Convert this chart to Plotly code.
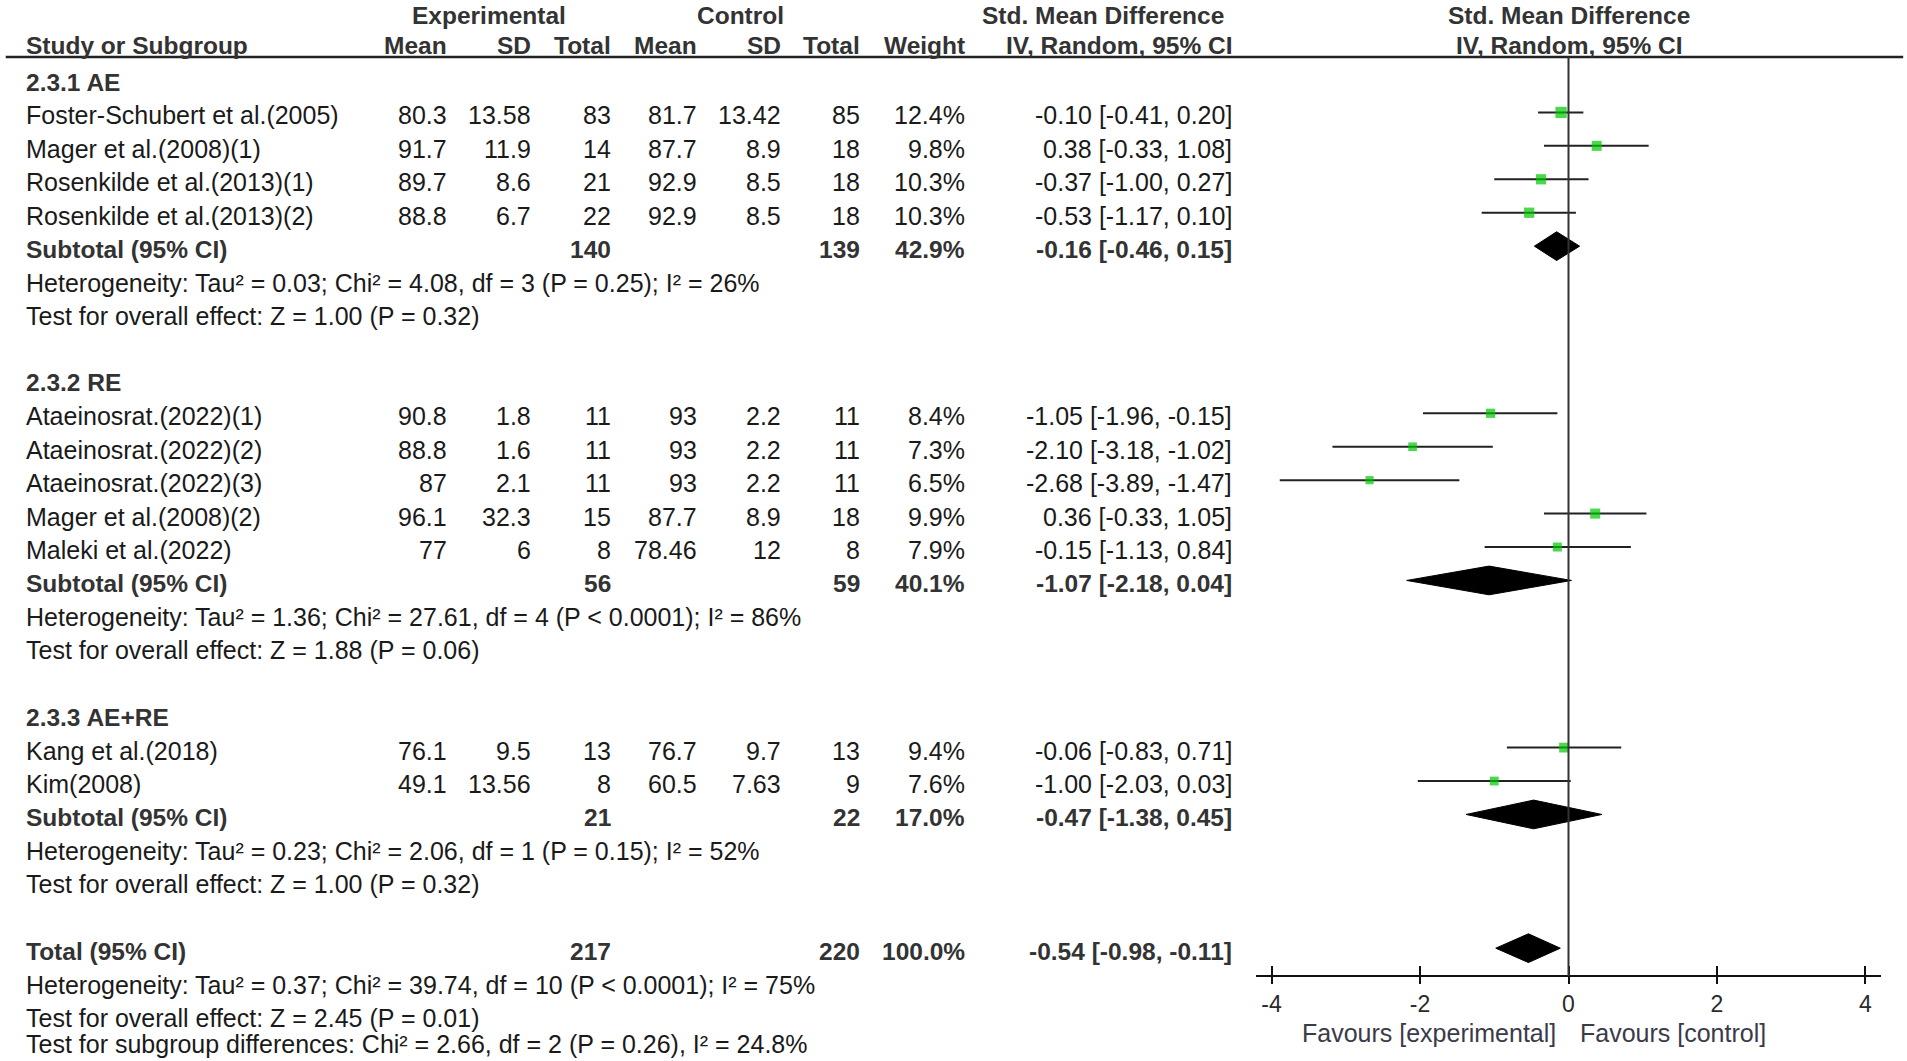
import plotly.graph_objects as go

# ---- data ----------------------------------------------------------------
groups = ["2.3.1 AE", "2.3.2 RE", "2.3.3 AE+RE"]

study = [
    "Foster-Schubert et al.(2005)", "Mager et al.(2008)(1)",
    "Rosenkilde et al.(2013)(1)", "Rosenkilde et al.(2013)(2)",
    "Ataeinosrat.(2022)(1)", "Ataeinosrat.(2022)(2)", "Ataeinosrat.(2022)(3)",
    "Mager et al.(2008)(2)", "Maleki et al.(2022)",
    "Kang et al.(2018)", "Kim(2008)",
]
study_group = [0, 0, 0, 0, 1, 1, 1, 1, 1, 2, 2]
exp_mean = [80.3, 91.7, 89.7, 88.8, 90.8, 88.8, 87, 96.1, 77, 76.1, 49.1]
exp_sd = [13.58, 11.9, 8.6, 6.7, 1.8, 1.6, 2.1, 32.3, 6, 9.5, 13.56]
exp_n = [83, 14, 21, 22, 11, 11, 11, 15, 8, 13, 8]
ctl_mean = [81.7, 87.7, 92.9, 92.9, 93, 93, 93, 87.7, 78.46, 76.7, 60.5]
ctl_sd = [13.42, 8.9, 8.5, 8.5, 2.2, 2.2, 2.2, 8.9, 12, 9.7, 7.63]
ctl_n = [85, 18, 18, 18, 11, 11, 11, 18, 8, 13, 9]
weight = [12.4, 9.8, 10.3, 10.3, 8.4, 7.3, 6.5, 9.9, 7.9, 9.4, 7.6]
smd = [-0.10, 0.38, -0.37, -0.53, -1.05, -2.10, -2.68, 0.36, -0.15, -0.06, -1.00]
smd_lo = [-0.41, -0.33, -1.00, -1.17, -1.96, -3.18, -3.89, -0.33, -1.13, -0.83, -2.03]
smd_hi = [0.20, 1.08, 0.27, 0.10, -0.15, -1.02, -1.47, 1.05, 0.84, 0.71, 0.03]

sub_exp_n = [140, 56, 21]
sub_ctl_n = [139, 59, 22]
sub_weight = [42.9, 40.1, 17.0]
sub_smd = [-0.16, -1.07, -0.47]
sub_lo = [-0.46, -2.18, -1.38]
sub_hi = [0.15, 0.04, 0.45]
sub_tau2 = ["0.03", "1.36", "0.23"]
sub_chi2 = ["4.08", "27.61", "2.06"]
sub_df = [3, 4, 1]
sub_p = ["= 0.25", "< 0.0001", "= 0.15"]
sub_i2 = [26, 86, 52]
sub_z = ["1.00", "1.88", "1.00"]
sub_zp = ["0.32", "0.06", "0.32"]

tot_exp_n, tot_ctl_n, tot_weight = 217, 220, 100.0
tot_smd, tot_lo, tot_hi = -0.54, -0.98, -0.11
tot_het = "Heterogeneity: Tau² = 0.37; Chi² = 39.74, df = 10 (P < 0.0001); I² = 75%"
tot_test = "Test for overall effect: Z = 2.45 (P = 0.01)"
sub_diff = "Test for subgroup differences: Chi² = 2.66, df = 2 (P = 0.26), I² = 24.8%"

tick_vals = [-4, -2, 0, 2, 4]

# ---- layout helpers ------------------------------------------------------
W, H = 1907, 1061
ROW0, ROWH = 79, 33.43          # pixel centre of first row, row height
FONT = "Liberation Sans, Arial, sans-serif"
TXT = "#1a1a1a"
HDR = "#333333"
FS = 25      # regular text
FB = 24.5    # bold text

# right edges of numeric columns (px)
col_r = [449, 533, 613, 699, 783, 862, 967, 1234]

annotations = []


def txt(x, row, s, anchor="left", bold=False, color=TXT, size=None, shift=-3):
    if size is None:
        size = FB if bold else FS
    if bold:
        s = "<b>" + s + "</b>"
    annotations.append(dict(
        x=x / W, y=row, xref="paper", yref="y", text=s, showarrow=False,
        xanchor=anchor, yanchor="middle", yshift=shift,
        font=dict(family=FONT, size=size, color=color)))


def fmt(v):
    return f"{v:g}"


def ci(e, lo, hi):
    return f"{e:.2f} [{lo:.2f}, {hi:.2f}]"


# header
txt(489, -2, "Experimental", "center", True, HDR, shift=-3)
txt(740, -2, "Control", "center", True, HDR, shift=-3)
txt(1103, -2, "Std. Mean Difference", "center", True, HDR, shift=-3)
txt(1569, -2, "Std. Mean Difference", "center", True, HDR, shift=-3)
txt(24, -1, "Study or Subgroup", bold=True, color=HDR, shift=0)
for xr, s in zip(col_r, ["Mean", "SD", "Total", "Mean", "SD", "Total",
                         "Weight", "IV, Random, 95% CI"]):
    txt(xr, -1, s, "right", True, HDR, shift=0)
txt(1569, -1, "IV, Random, 95% CI", "center", True, HDR, shift=0)

# body rows
study_rows, sub_rows = [], []
row = 0
for g, gname in enumerate(groups):
    txt(24, row, gname, bold=True, color=HDR)
    row += 1
    for i in [k for k in range(len(study)) if study_group[k] == g]:
        txt(24, row, study[i])
        vals = [fmt(exp_mean[i]), fmt(exp_sd[i]), str(exp_n[i]),
                fmt(ctl_mean[i]), fmt(ctl_sd[i]), str(ctl_n[i]),
                f"{weight[i]:.1f}%", ci(smd[i], smd_lo[i], smd_hi[i])]
        for xr, s in zip(col_r, vals):
            txt(xr, row, s, "right")
        study_rows.append(row)
        row += 1
    txt(24, row, "Subtotal (95% CI)", bold=True, color=HDR)
    txt(col_r[2], row, str(sub_exp_n[g]), "right", True, HDR)
    txt(col_r[5], row, str(sub_ctl_n[g]), "right", True, HDR)
    txt(col_r[6], row, f"{sub_weight[g]:.1f}%", "right", True, HDR)
    txt(col_r[7], row, ci(sub_smd[g], sub_lo[g], sub_hi[g]), "right", True, HDR)
    sub_rows.append(row)
    row += 1
    txt(24, row, f"Heterogeneity: Tau² = {sub_tau2[g]}; Chi² = {sub_chi2[g]}, "
        f"df = {sub_df[g]} (P {sub_p[g]}); I² = {sub_i2[g]}%")
    row += 1
    txt(24, row, f"Test for overall effect: Z = {sub_z[g]} (P = {sub_zp[g]})")
    row += 2

tot_row = row
txt(24, tot_row, "Total (95% CI)", bold=True, color=HDR)
txt(col_r[2], tot_row, str(tot_exp_n), "right", True, HDR)
txt(col_r[5], tot_row, str(tot_ctl_n), "right", True, HDR)
txt(col_r[6], tot_row, f"{tot_weight:.1f}%", "right", True, HDR)
txt(col_r[7], tot_row, ci(tot_smd, tot_lo, tot_hi), "right", True, HDR)
txt(24, tot_row + 1, tot_het)
txt(24, tot_row + 2, tot_test)
txt(24, tot_row + 3, sub_diff, shift=4)

# favours labels under the axis
txt(1558, 28.54, "Favours [experimental]", "right", color="#3a3a48", size=25, shift=0)
txt(1578, 28.54, "Favours [control]", "left", color="#3a3a48", size=25, shift=0)

# ---- figure --------------------------------------------------------------
fig = go.Figure()

# diamonds for subtotals and total
dh = 0.43
for r, e, lo, hi in zip(sub_rows + [tot_row], sub_smd + [tot_smd],
                        sub_lo + [tot_lo], sub_hi + [tot_hi]):
    fig.add_trace(go.Scatter(
        x=[lo, e, hi, e, lo], y=[r, r - dh, r, r + dh, r],
        mode="lines", fill="toself", fillcolor="black",
        line=dict(color="black", width=1), hoverinfo="skip", showlegend=False))

# study estimates with CIs
fig.add_trace(go.Scatter(
    x=smd, y=study_rows, mode="markers",
    marker=dict(symbol="square", color="#00c800",
                size=[3.2 * w ** 0.5 for w in weight], line=dict(width=0)),
    error_x=dict(type="data", symmetric=False,
                 array=[h - e for h, e in zip(smd_hi, smd)],
                 arrayminus=[e - l for e, l in zip(smd, smd_lo)],
                 color="#222222", thickness=2, width=0),
    showlegend=False))

y_top = -ROW0 / ROWH
y_bot = (H - ROW0) / ROWH
axis_pos = 1 - 976 / H

fig.update_layout(
    width=W, height=H, margin=dict(l=0, r=0, t=0, b=0),
    paper_bgcolor="white", plot_bgcolor="white",
    annotations=annotations,
    xaxis=dict(domain=[1256 / W, 1881 / W], range=[-4.21, 4.21],
               anchor="free", position=axis_pos, showgrid=False, zeroline=False,
               showline=True, linecolor="#111", linewidth=2,
               tickvals=tick_vals, ticktext=[str(v) for v in tick_vals],
               ticks="outside", ticklen=7, tickwidth=2, tickcolor="#111",
               tickfont=dict(family=FONT, size=23, color="#2a2a2a")),
    xaxis2=dict(domain=[1256 / W, 1881 / W], range=[-4.21, 4.21],
                anchor="free", position=axis_pos, overlaying="x",
                showgrid=False, zeroline=False, showline=False,
                tickvals=tick_vals, ticks="inside", ticklen=10, tickwidth=2,
                tickcolor="#111", showticklabels=False),
    yaxis=dict(domain=[0, 1], range=[y_bot, y_top], visible=False),
    shapes=[
        dict(type="line", xref="paper", yref="paper", x0=0.003, x1=0.998,
             y0=1 - 57 / H, y1=1 - 57 / H, line=dict(color="#222", width=2.5)),
        dict(type="line", xref="x", yref="paper", x0=0, x1=0,
             y0=axis_pos, y1=1 - 57 / H, line=dict(color="#333", width=2)),
    ],
)
# dummy trace so the overlay axis is drawn
fig.add_trace(go.Scatter(x=[0], y=[None], xaxis="x2", showlegend=False,
                         hoverinfo="skip"))

fig.write_html("out.html", config={"displayModeBar": False},
               post_script="document.body.style.margin='0';")
